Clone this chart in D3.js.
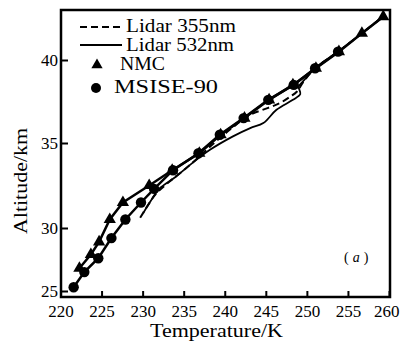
<!DOCTYPE html>
<html>
<head>
<meta charset="utf-8">
<script src="https://cdn.jsdelivr.net/npm/d3@7"></script>
<style>
	body{margin:0;background:#fff;}
	svg{display:block;font-family:"Liberation Serif","DejaVu Serif",serif;}
	text{fill:#000;}
</style>
</head>
<body>
<svg id="chart" width="400" height="343"></svg>
<script>
// temperature (K) / altitude (km)
var nmcTemp = [222.3, 223.7, 224.7, 226.0, 227.6, 230.8, 233.6, 236.9, 239.5, 242.4, 245.4, 248.3, 251.1, 253.9, 256.7, 259.3];
var nmcAlt = [26.8, 27.9, 28.9, 30.5, 31.5, 32.5, 33.4, 34.4, 35.5, 36.5, 37.6, 38.5, 39.5, 40.5, 41.6, 42.6];

var msiseTemp = [221.6, 222.9, 224.6, 226.2, 227.9, 229.8, 231.4, 233.7, 236.8, 239.4, 242.3, 245.3, 248.4, 251.0, 253.8];
var msiseAlt = [25.3, 26.5, 27.6, 29.2, 30.5, 31.5, 32.3, 33.4, 34.4, 35.5, 36.5, 37.6, 38.5, 39.5, 40.5];

var lidar355Temp = [229.7, 230.6, 231.6, 233.2, 235.5, 238.6, 241.0, 243.1, 245.2, 246.7, 248.0, 248.8, 249.6, 251.0, 253.8, 256.7, 259.5];
var lidar355Alt = [30.6, 31.3, 32.0, 32.7, 33.6, 34.95, 35.95, 36.7, 37.1, 37.4, 37.8, 38.1, 38.7, 39.5, 40.5, 41.6, 42.7];

var lidar532Temp = [230.1, 231.0, 232.0, 234.0, 236.0, 238.2, 241.0, 243.1, 244.7, 246.3, 248.3, 249.2, 249.0, 249.5, 251.0, 253.8, 256.7, 259.5];
var lidar532Alt = [30.9, 31.6, 32.3, 33.0, 33.8, 34.6, 35.4, 35.9, 36.2, 37.0, 37.6, 37.95, 38.4, 38.7, 39.5, 40.5, 41.6, 42.7];

var xTicks = [220, 225, 230, 235, 240, 245, 250, 255, 260];
var yTicks = [25, 30, 35, 40];

var svg = d3.select('#chart');
var plotL = 61, plotR = 390, plotT = 10, plotB = 297;

var x = d3.scaleLinear().domain([220, 260]).range([60.5, 389]);
// the scanned axis is not evenly spaced, so follow its tick positions
var y = d3.scaleLinear().domain([24.5, 25, 30, 35, 40, 43]).range([plotB, 291, 228, 143, 60, plotT]);

function zip(t, a){
	return t.map(function(d, i){ return [d, a[i]]; });
}

drawAxes();
drawSeries();
drawLegend();

function drawAxes(){
	var xAxis = d3.axisBottom(x).tickValues(xTicks).tickSize(-6).tickPadding(8);
	var yAxis = d3.axisLeft(y).tickValues(yTicks).tickSize(-7).tickPadding(3);

	var gx = svg.append('g').attr('transform', 'translate(0,' + plotB + ')').call(xAxis);
	var gy = svg.append('g').attr('transform', 'translate(' + plotL + ',0)').call(yAxis);

	[gx, gy].forEach(function(g){
		g.select('.domain').remove();
		g.selectAll('line').attr('stroke', '#000').attr('stroke-width', 2);
		g.selectAll('text').attr('fill', '#000').style('font-size', '17px')
			.style('font-family', '"Liberation Serif", serif');
	});
	//last label would run off the page edge
	gx.selectAll('.tick:last-of-type text').attr('text-anchor', 'end').attr('x', 10);

	//frame
	svg.append('rect')
		.attr('x', plotL).attr('y', plotT)
		.attr('width', plotR - plotL).attr('height', plotB - plotT)
		.attr('fill', 'none').attr('stroke', '#000').attr('stroke-width', 2.5);

	svg.append('text')
		.attr('x', 150).attr('y', 337)
		.attr('textLength', 133).attr('lengthAdjust', 'spacingAndGlyphs')
		.style('font-size', '19px')
		.text('Temperature/K');

	svg.append('text')
		.attr('transform', 'translate(27,181) rotate(-90)')
		.attr('text-anchor', 'middle')
		.attr('textLength', 106).attr('lengthAdjust', 'spacingAndGlyphs')
		.style('font-size', '19px')
		.text('Altitude/km');

	var lab = svg.append('text').attr('x', 344).attr('y', 262).style('font-size', '14px');
	lab.append('tspan').text('(');
	lab.append('tspan').style('font-style', 'italic').attr('dx', 4).text('a');
	lab.append('tspan').attr('dx', 4).text(')');
}

function drawSeries(){
	var line = d3.line()
		.x(function(d){ return x(d[0]); })
		.y(function(d){ return y(d[1]); });
	var smooth = d3.line()
		.x(function(d){ return x(d[0]); })
		.y(function(d){ return y(d[1]); })
		.curve(d3.curveCatmullRom.alpha(0.5));

	svg.append('path').datum(zip(lidar532Temp, lidar532Alt))
		.attr('d', smooth).attr('fill', 'none')
		.attr('stroke', '#000').attr('stroke-width', 1.8);
	svg.append('path').datum(zip(lidar355Temp, lidar355Alt))
		.attr('d', smooth).attr('fill', 'none')
		.attr('stroke', '#000').attr('stroke-width', 2)
		.attr('stroke-dasharray', '7,4');

	svg.append('path').datum(zip(nmcTemp, nmcAlt))
		.attr('d', line).attr('fill', 'none')
		.attr('stroke', '#000').attr('stroke-width', 2.5);
	svg.append('path').datum(zip(msiseTemp, msiseAlt))
		.attr('d', line).attr('fill', 'none')
		.attr('stroke', '#000').attr('stroke-width', 2.5);

	var tri = d3.symbol().type(d3.symbolTriangle).size(65);
	svg.append('g').selectAll('path')
		.data(zip(nmcTemp, nmcAlt))
		.join('path')
		.attr('transform', function(d){ return 'translate(' + x(d[0]) + ',' + y(d[1]) + ')'; })
		.attr('d', tri).attr('fill', '#000');

	svg.append('g').selectAll('circle')
		.data(zip(msiseTemp, msiseAlt))
		.join('circle')
		.attr('cx', function(d){ return x(d[0]); })
		.attr('cy', function(d){ return y(d[1]); })
		.attr('r', 5.2).attr('fill', '#000');
}

function drawLegend(){
	var g = svg.append('g').style('font-size', '18px');

	g.append('line').attr('x1', 80).attr('x2', 124).attr('y1', 27).attr('y2', 27)
		.attr('stroke', '#000').attr('stroke-width', 2).attr('stroke-dasharray', '7,4');
	g.append('line').attr('x1', 80).attr('x2', 122).attr('y1', 45).attr('y2', 45)
		.attr('stroke', '#000').attr('stroke-width', 1.8);
	g.append('path').attr('transform', 'translate(97,65)')
		.attr('d', d3.symbol().type(d3.symbolTriangle).size(55)).attr('fill', '#000');
	g.append('circle').attr('cx', 96).attr('cy', 88).attr('r', 5).attr('fill', '#000');

	var labels = [
		{text: 'Lidar 355nm', x: 126, y: 32, w: 110},
		{text: 'Lidar 532nm', x: 126, y: 51, w: 108},
		{text: 'NMC', x: 120, y: 70, w: 45},
		{text: 'MSISE-90', x: 114, y: 93, w: 104}
	];
	labels.forEach(function(l){
		g.append('text').attr('x', l.x).attr('y', l.y)
			.attr('textLength', l.w).attr('lengthAdjust', 'spacingAndGlyphs')
			.text(l.text);
	});
}
</script>
</body>
</html>
